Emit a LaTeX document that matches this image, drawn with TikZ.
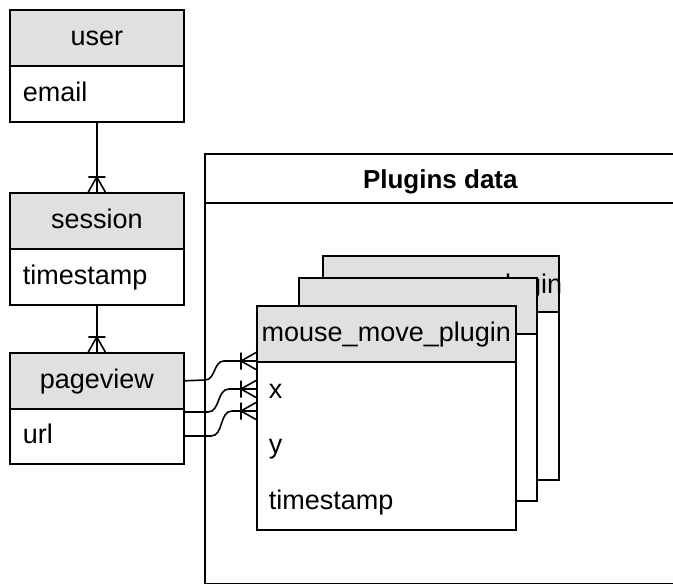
\documentclass[tikz,border=0pt]{standalone}
\usepackage{fontspec}
\setmainfont{Liberation Sans}
\definecolor{hdrgray}{HTML}{E0E0E0}
\begin{document}
\begin{tikzpicture}[x=1pt,y=-1pt,line width=1.6pt,
  box/.style={draw, rectangle, inner sep=0pt, anchor=north west, line width=1.6pt},
  hdrbox/.style={box, fill=hdrgray, text height=16pt, text depth=0pt, font=\fontsize{27}{31}\selectfont},
  rowbox/.style={box, fill=white},
  rowtxt/.style={anchor=base west, inner sep=0pt, font=\fontsize{27}{31}\selectfont},
  pics/crowfoot/.style={code={\draw[line width=1.6pt] (0,-8.5)--(-15,0)--(0,8.5) (0,0)--(-15,0) (-15,-8.5)--(-15,8.5);}}
]
\useasboundingbox (0,0) rectangle (673,584);
\fill[white] (0,0) rectangle (673,584);

% left entities
\node[hdrbox, minimum width=174pt, minimum height=56pt] (user) at (9,9) {user};
\node[rowbox, minimum width=174pt, minimum height=56pt] (userbody) at (9,65) {};
\node[rowtxt] (email) at (22,101) {email};

\node[hdrbox, minimum width=174pt, minimum height=56pt] (session) at (9,192) {session};
\node[rowbox, minimum width=174pt, minimum height=56pt] (sessionbody) at (9,248) {};
\node[rowtxt] (sts) at (22,284) {timestamp};

\node[hdrbox, minimum width=174pt, minimum height=56pt] (pv) at (9,352) {pageview};
\node[rowbox, minimum width=174pt, minimum height=55pt] (pvbody) at (9,408) {};
\node[rowtxt] (url) at (22,443.5) {url};

% Plugins data container
\node[box, fill=white, minimum width=471pt, minimum height=49pt, text height=20pt, text depth=0pt,
      font=\fontsize{26}{30}\selectfont\bfseries] (plug) at (204,153) {Plugins data};
\node[box, fill=white, minimum width=471pt, minimum height=381pt] (plugbody) at (204,202) {};

% stacked plugin tables
\node[box, fill=hdrgray, minimum width=236pt, minimum height=56pt] (back) at (322,255) {};
\node[rowbox, minimum width=236pt, minimum height=168pt] (backbody) at (322,311) {};
\node[anchor=base, inner sep=0pt, font=\fontsize{27}{31}\selectfont] (backtxt) at (437.5,293) {mouse\_move\_plugin};

\node[box, fill=hdrgray, minimum width=238pt, minimum height=56pt] (mid) at (298,277) {};
\node[rowbox, minimum width=238pt, minimum height=167pt] (midbody) at (298,333) {};

\node[hdrbox, minimum width=259pt, minimum height=56pt] (front) at (256,305) {mouse\_move\_plugin};
\node[rowbox, minimum width=259pt, minimum height=168pt] (frontbody) at (256,361) {};
\node[rowtxt] (fx) at (268,398) {x};
\node[rowtxt] (fy) at (268,453.5) {y};
\node[rowtxt] (fts) at (268,509) {timestamp};

% vertical relations
\draw (userbody.south) -- (session.north);
\pic[rotate=-90] at (session.north) {crowfoot};
\draw (sessionbody.south) -- (pv.north);
\pic[rotate=-90] at (pv.north) {crowfoot};

% relations to plugin table
\coordinate (c2s) at (183,412);
\coordinate (c3s) at (183,436);
\coordinate (c1e) at (256,361);
\coordinate (c2e) at (256,389);
\coordinate (c3e) at (256,411);
\draw (pv.east) -- (205,380) to[out=0,in=180] (224,361) -- (c1e);
\draw (c2s) -- (208,412) to[out=0,in=180] (229,389) -- (c2e);
\draw (c3s) -- (211,436) to[out=0,in=180] (232,411) -- (c3e);
\pic at (c1e) {crowfoot};
\pic at (c2e) {crowfoot};
\pic at (c3e) {crowfoot};
\end{tikzpicture}
\end{document}
